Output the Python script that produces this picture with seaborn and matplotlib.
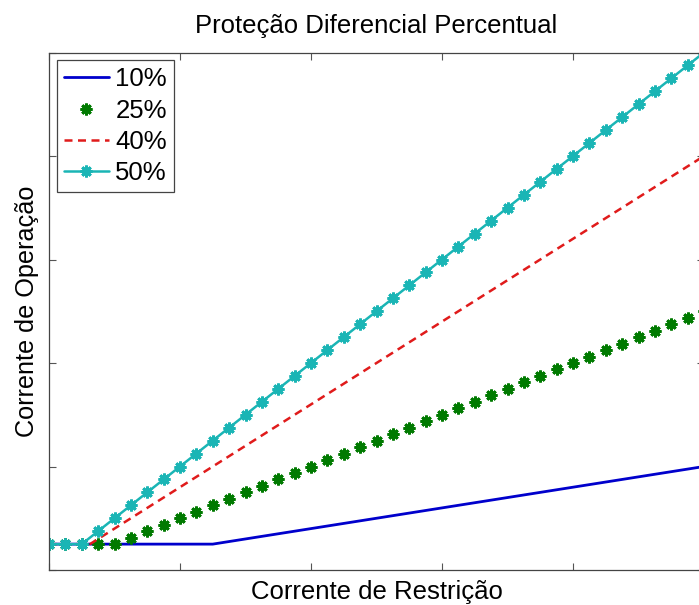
import numpy as np
import pandas as pd
import seaborn as sns
import matplotlib.pyplot as plt

# restraint current grid (marker positions) and operating curves
x_grid = [0.0, 0.25, 0.5, 0.75, 1.0, 1.25, 1.5, 1.75, 2.0, 2.25, 2.5, 2.75, 3.0, 3.25,
          3.5, 3.75, 4.0, 4.25, 4.5, 4.75, 5.0, 5.25, 5.5, 5.75, 6.0, 6.25, 6.5, 6.75,
          7.0, 7.25, 7.5, 7.75, 8.0, 8.25, 8.5, 8.75, 9.0, 9.25, 9.5, 9.75, 10.0]

x_10 = [0.0, 2.5, 10.0]
y_10 = [0.25, 0.25, 1.0]

y_25 = [0.25, 0.25, 0.25, 0.25, 0.25, 0.3125, 0.375, 0.4375, 0.5, 0.5625, 0.625, 0.6875,
        0.75, 0.8125, 0.875, 0.9375, 1.0, 1.0625, 1.125, 1.1875, 1.25, 1.3125, 1.375,
        1.4375, 1.5, 1.5625, 1.625, 1.6875, 1.75, 1.8125, 1.875, 1.9375, 2.0, 2.0625,
        2.125, 2.1875, 2.25, 2.3125, 2.375, 2.4375, 2.5]

x_40 = [0.0, 0.625, 10.0]
y_40 = [0.25, 0.25, 4.0]

y_50 = [0.25, 0.25, 0.25, 0.375, 0.5, 0.625, 0.75, 0.875, 1.0, 1.125, 1.25, 1.375, 1.5,
        1.625, 1.75, 1.875, 2.0, 2.125, 2.25, 2.375, 2.5, 2.625, 2.75, 2.875, 3.0, 3.125,
        3.25, 3.375, 3.5, 3.625, 3.75, 3.875, 4.0, 4.125, 4.25, 4.375, 4.5, 4.625, 4.75,
        4.875, 5.0]

labels = ["10%", "25%", "40%", "50%"]

sns.set_style("white")
plt.rcParams['font.family'] = ['Liberation Sans', 'DejaVu Sans']
plt.rcParams['text.color'] = 'black'
plt.rcParams['axes.labelcolor'] = 'black'

fig = plt.figure(figsize=(6.99, 6.05), dpi=100)
# axes run past the right edge of the figure, as in the reference
ax = fig.add_axes([49 / 699, 35 / 605, 655 / 699, 517.5 / 605])

star = (8, 2, 0)
sns.lineplot(x=x_10, y=y_10, ax=ax, color="#0000cc", lw=2.0, label=labels[0],
             errorbar=None)
sns.lineplot(x=x_grid, y=y_25, ax=ax, color="#007a00", linestyle="none", marker=star,
             markersize=8.5, mew=2.0, mec="#007a00", label=labels[1], errorbar=None)
sns.lineplot(x=x_40, y=y_40, ax=ax, color="#e01b1b", lw=1.8, linestyle=(0, (3.2, 2.2)),
             label=labels[2], errorbar=None)
sns.lineplot(x=x_grid, y=y_50, ax=ax, color="#1ab5b5", lw=1.8, marker=star,
             markersize=8.5, mew=2.0, mec="#1ab5b5", label=labels[3], errorbar=None)

ax.set_xlim(0, 10)
ax.set_ylim(0, 5)
ax.set_xticks([0, 2, 4, 6, 8, 10])
ax.set_yticks([0, 1, 2, 3, 4, 5])
ax.tick_params(direction="in", length=5, width=0.8, color="#555555",
               top=True, right=True, bottom=True, left=True,
               labelbottom=False, labelleft=False)
for s in ax.spines.values():
    s.set_color("#444444")
    s.set_linewidth(0.9)

ax.set_title("Proteção Diferencial Percentual", fontsize=18.5, pad=14, color="black")
ax.set_xlabel("Corrente de Restrição", fontsize=18.5, labelpad=7)
ax.set_ylabel("Corrente de Operação", fontsize=18.2, labelpad=7)

leg = ax.legend(loc="upper left", fontsize=18.5, frameon=True, fancybox=False,
                edgecolor="#444444", framealpha=1, borderaxespad=0.3,
                handlelength=1.75, handletextpad=0.25, labelspacing=0.28,
                borderpad=0.28)
leg.get_frame().set_linewidth(0.9)
for t in leg.get_texts():
    t.set_color("black")

plt.savefig("out.png", dpi=100)
